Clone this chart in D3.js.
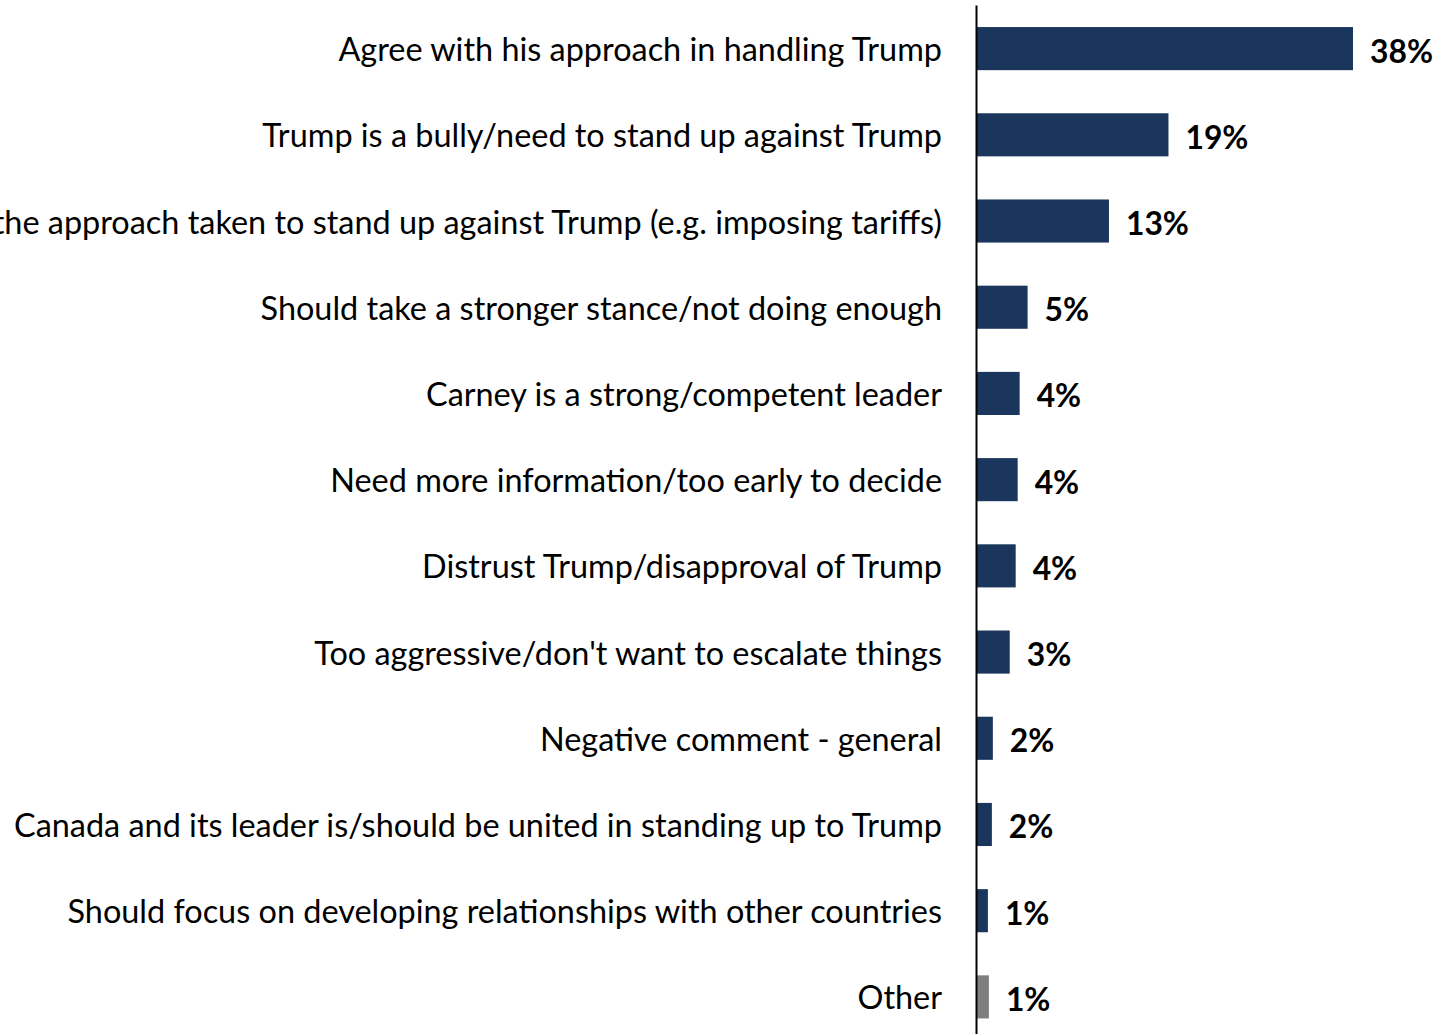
<!DOCTYPE html>
<html>
<head>
<meta charset="utf-8">
<script src="https://cdn.jsdelivr.net/npm/d3@7"></script>
<style>
  html, body { margin: 0; padding: 0; background: #fff; overflow: hidden; }
  svg { display: block; }
</style>
</head>
<body>
<svg id="chart" width="1440" height="1034"></svg>
<script>
const categories = [
  "Agree with his approach in handling Trump",
  "Trump is a bully/need to stand up against Trump",
  "Support the approach taken to stand up against Trump (e.g. imposing tariffs)",
  "Should take a stronger stance/not doing enough",
  "Carney is a strong/competent leader",
  "Need more information/too early to decide",
  "Distrust Trump/disapproval of Trump",
  "Too aggressive/don't want to escalate things",
  "Negative comment - general",
  "Canada and its leader is/should be united in standing up to Trump",
  "Should focus on developing relationships with other countries",
  "Other"
];
const values = [38, 19.4, 13.4, 5.2, 4.4, 4.2, 4.0, 3.4, 1.7, 1.6, 1.2, 1.3];
const valueLabels = ["38%", "19%", "13%", "5%", "4%", "4%", "4%", "3%", "2%", "2%", "1%", "1%"];
const isOther = [false, false, false, false, false, false, false, false, false, false, false, true];

const W = 1440, H = 1034;
const axisX = 976;
const svg = d3.select("#chart");

const x = d3.scaleLinear().domain([0, 38]).range([axisX, 1353]);
const y = d3.scaleBand().domain(categories).range([5.5, 1040]).paddingInner(0.5).paddingOuter(0.25);

const FONT = "Lato, 'Open Sans', sans-serif";

// bars
svg.append("g").selectAll("rect").data(categories).join("rect")
  .attr("x", axisX)
  .attr("y", d => y(d))
  .attr("width", (d, i) => x(values[i]) - axisX)
  .attr("height", y.bandwidth())
  .attr("fill", (d, i) => isOther[i] ? "#7f7f7f" : "#1b365d");

// category labels
const catG = svg.append("g");
const cat = catG.selectAll("text").data(categories).join("text")
  .attr("x", 942)
  .attr("y", d => y(d) + y.bandwidth() / 2)
  .attr("text-anchor", "end")
  .attr("dominant-baseline", "central")
  .attr("font-family", FONT)
  .attr("font-size", 30)
  .attr("fill", "#000")
  .text(d => d);
// fit font size so the first label spans its width in the reference (~604px)
const w0 = cat.nodes()[0].getComputedTextLength();
cat.attr("font-size", 30 * 604 / w0);

// value labels
const val = svg.append("g").selectAll("text").data(categories).join("text")
  .attr("x", (d, i) => x(values[i]) + 17)
  .attr("y", d => y(d) + y.bandwidth() / 2 + 2)
  .attr("dominant-baseline", "central")
  .attr("font-family", FONT)
  .attr("font-weight", "bold")
  .attr("font-size", 30)
  .attr("fill", "#000")
  .text((d, i) => valueLabels[i]);
const v0 = val.nodes()[0].getComputedTextLength();
val.attr("font-size", 30 * 63 / v0);

// axis line
svg.append("g")
  .attr("transform", `translate(${axisX},0)`)
  .call(d3.axisLeft(d3.scaleLinear().range([5, H])).ticks(0).tickSize(0).tickSizeOuter(0))
  .call(g => g.select(".domain").attr("stroke", "#000").attr("stroke-width", 2))
  .call(g => g.selectAll(".tick").remove());
</script>
</body>
</html>
